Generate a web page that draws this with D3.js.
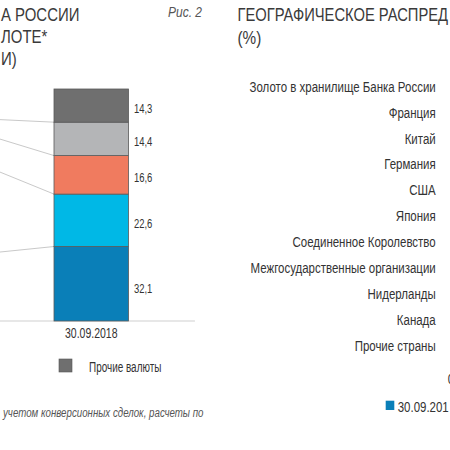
<!DOCTYPE html>
<html><head><meta charset="utf-8">
<script src="https://cdn.jsdelivr.net/npm/d3@7"></script>
<style>html,body{margin:0;padding:0;background:#fff;overflow:hidden}</style>
</head><body><svg id="c" width="450" height="450"></svg>
<script>
// ---------- DATA ----------
const dates = ["30.09.2017", "30.09.2018"];
const currencyKeys = ["Евро", "Доллар США", "Золото", "Китайский юань", "Прочие валюты"];
const share2017 = [29.3, 36.6, 13.8, 7.3, 13.0];   // previous bar (outside the visible crop)
const share2018 = [32.1, 22.6, 16.6, 14.4, 14.3];
const currencyColors = ["#0a7fb8", "#00b8e6", "#f07b5f", "#b4b5b7", "#6f6f6f"];

const leftTitle = ["А РОССИИ", "ЛОТЕ*", "И)"];
const figLabel = "Рис. 2";
const footnote = "учетом конверсионных сделок, расчеты по";

const geoTitle = ["ГЕОГРАФИЧЕСКОЕ РАСПРЕД", "(%)"];
const geoCategories = ["Золото в хранилище Банка России", "Франция", "Китай", "Германия", "США", "Япония",
  "Соединенное Королевство", "Межгосударственные организации", "Нидерланды", "Канада", "Прочие страны"];
const geoTicks = [0];
const geoLegend = "30.09.201";

// ---------- HELPERS ----------
const SANS = "'Liberation Sans', Arial, sans-serif";
const svg = d3.select("#c");
function txt(g, x, y, s, o = {}) {
  return g.append("text")
    .attr("transform", `translate(${x},${y}) scale(${o.sx || 1},1)`)
    .attr("text-anchor", o.anchor || "start")
    .style("font-family", o.font || SANS)
    .style("font-size", (o.size || 14) + "px")
    .style("font-style", o.italic ? "italic" : "normal")
    .style("fill", o.fill || "#333")
    .text(s);
}
const fmt = v => d3.format(".1f")(v).replace(".", ",");

// ---------- LEFT CHART ----------
const rows = dates.map((d, i) => {
  const r = { date: d };
  const src = i === 0 ? share2017 : share2018;
  currencyKeys.forEach((k, j) => r[k] = src[j]);
  return r;
});
const stack = d3.stack().keys(currencyKeys)(rows);

const y = d3.scaleLinear().domain([0, 100]).range([321, 89]);
const x = d3.scalePoint().domain(dates).range([-47, 91.25]);
const bw = 74.5;
const step = x.step();
const cur = dates[1];

const L = svg.append("g");
// baseline axis
L.append("line")
  .attr("x1", x(dates[0]) - 1.5 * step).attr("x2", x(cur) + 0.75 * step)
  .attr("y1", y(0)).attr("y2", y(0))
  .attr("stroke", "#cfcfcf").attr("stroke-width", 1);

// leader lines between bars
for (let k = 0; k < currencyKeys.length - 1; k++) {
  const s = stack[k];
  L.append("line")
    .attr("x1", x(dates[0]) + bw / 2).attr("y1", y(s[0][1]))
    .attr("x2", x(cur) - bw / 2).attr("y2", y(s[1][1]))
    .attr("stroke", "#c9c9c9").attr("stroke-width", 1);
}

// bars
stack.forEach((s, k) => {
  L.selectAll(null).data(s).enter().append("rect")
    .attr("x", d => x(d.data.date) - bw / 2)
    .attr("width", bw)
    .attr("y", d => y(d[1]))
    .attr("height", d => y(d[0]) - y(d[1]))
    .attr("fill", currencyColors[k])
    .attr("stroke", "#5a5a5a").attr("stroke-width", 0.8);
});

// value labels (current bar)
stack.forEach((s, k) => {
  const d = s[1];
  const yy = y(d[1]) + 0.56 * (y(d[0]) - y(d[1])) + 5;
  txt(L, x(cur) + bw / 2 + 5.5, yy, fmt(d[1] - d[0]), { size: 13.5, sx: 0.7 });
});

// category label (visible bar)
txt(L, x(cur), y(0) + 17, cur, { anchor: "middle", size: 14, sx: 0.75 });

// legend (visible item)
L.append("rect").attr("x", 59).attr("y", 359).attr("width", 13).attr("height", 13)
  .attr("fill", currencyColors[4]).attr("stroke", "#555").attr("stroke-width", 0.6);
txt(L, 89, 371.5, currencyKeys[4], { size: 14, sx: 0.71 });

// titles
leftTitle.forEach((t, i) => txt(L, 1, 21 + i * 22, t, { size: 18, fill: "#3a3a3a", sx: 0.83 }));
txt(L, 168, 17.3, figLabel, { size: 15, italic: true, fill: "#555", sx: 0.8 });
txt(L, 3, 416.5, footnote, { size: 13.5, italic: true, fill: "#555", sx: 0.72 });

// ---------- RIGHT CHART ----------
const R = svg.append("g");
txt(R, 237.5, 21, geoTitle[0], { size: 18, fill: "#3a3a3a", sx: 0.82 });
txt(R, 237.5, 44, geoTitle[1], { size: 18, fill: "#3a3a3a", sx: 0.85 });

const yG = d3.scalePoint().domain(geoCategories).range([86.7, 346]);
geoCategories.forEach(c => txt(R, 435.7, yG(c) + 5, c, { anchor: "end", size: 14, sx: 0.82 }));

const xG = d3.scaleLinear().domain([0, 30]).range([451, 700]);
geoTicks.forEach(t => txt(R, xG(t), 384, String(t), { anchor: "middle", size: 14, sx: 0.82 }));

R.append("rect").attr("x", 385.7).attr("y", 400.7).attr("width", 8.6).attr("height", 9.3)
  .attr("fill", currencyColors[0]);
txt(R, 397.7, 411.7, geoLegend, { size: 14, sx: 0.82 });
</script></body></html>
